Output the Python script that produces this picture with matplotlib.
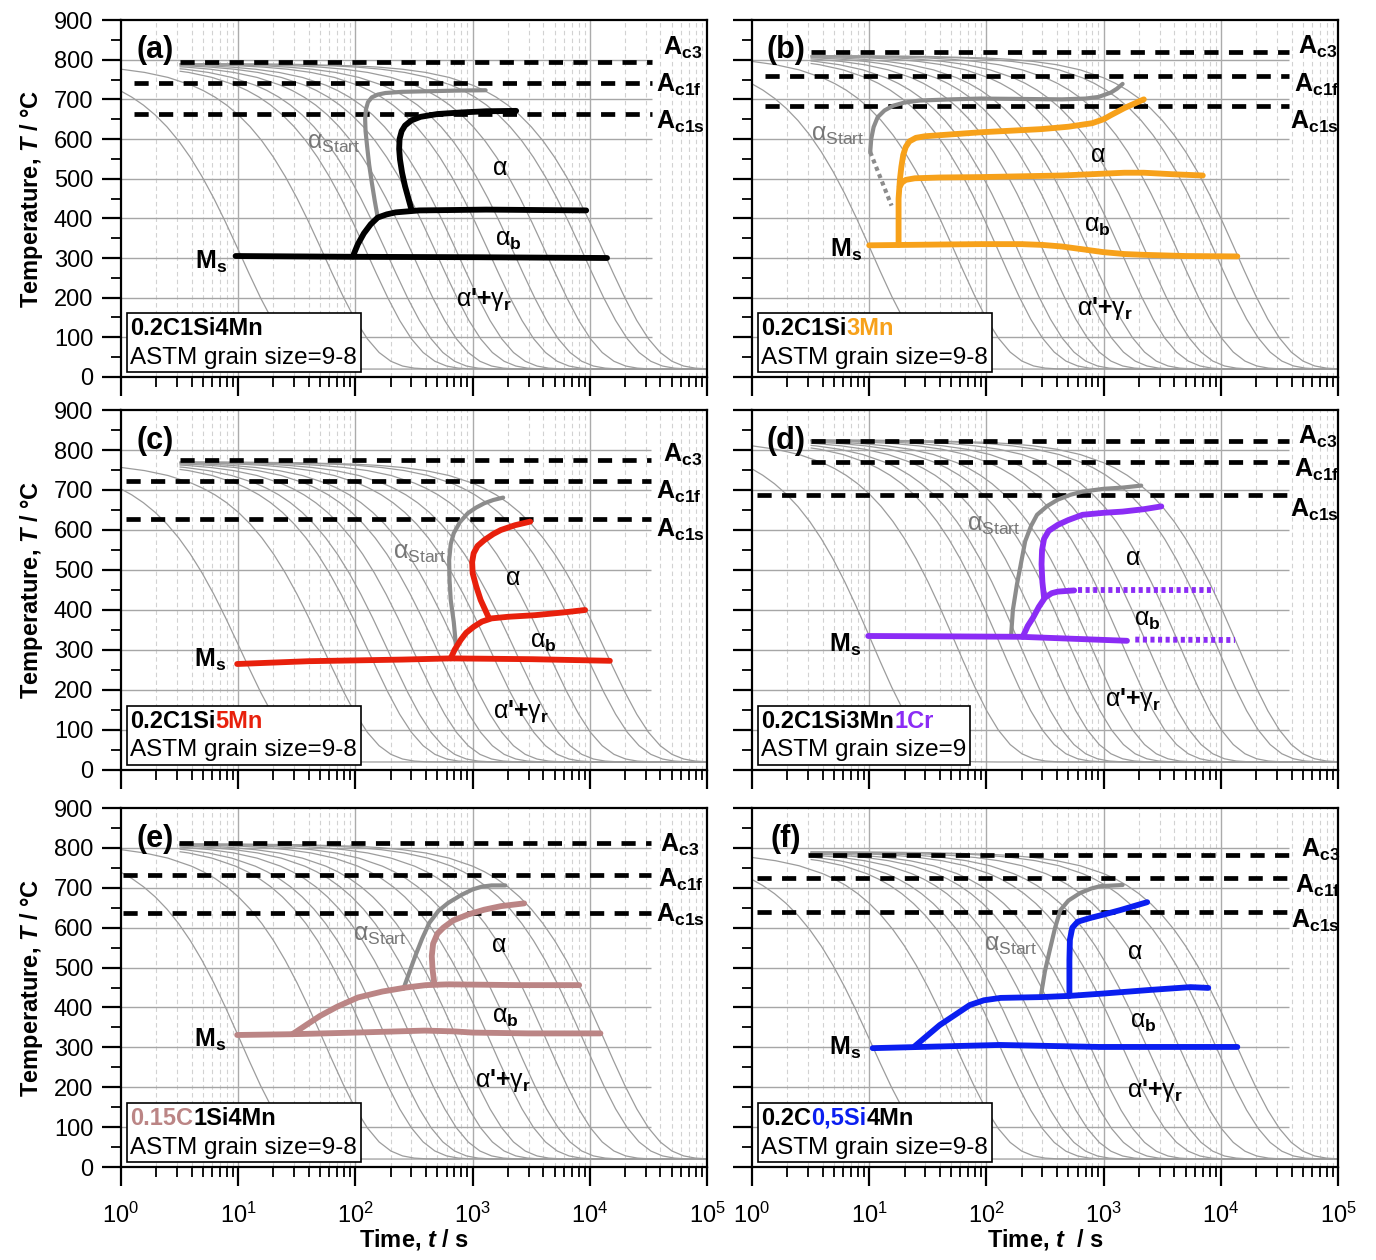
import numpy as np
import matplotlib
matplotlib.use("Agg")
import matplotlib.pyplot as plt
from matplotlib.offsetbox import TextArea, HPacker, VPacker, AnchoredOffsetbox

plt.rcParams['font.family'] = 'Liberation Sans'
plt.rcParams['mathtext.fontset'] = 'custom'
plt.rcParams['mathtext.rm'] = 'Liberation Sans'
plt.rcParams['mathtext.it'] = 'Liberation Sans:italic'
plt.rcParams['mathtext.bf'] = 'Liberation Sans:bold'
plt.rcParams['mathtext.bfit'] = 'Liberation Sans:italic:bold'

# --- cooling curves (same family in every panel) ---
# time [s] at which each curve is half way down
cool_mid_t = [7.8, 40, 95, 140, 230, 370, 560, 1050, 1700, 3200, 6600, 10000]
# shape of one curve: log-time offset from the mid point and fraction of (T0 - 20)
cool_dlog = [-4.0, -3.0, -2.5, -2.0, -1.8, -1.6, -1.4, -1.2, -1.0, -0.9, -0.8, -0.7,
             -0.6, -0.5, -0.4, -0.3, -0.2, -0.1, 0.0, 0.1, 0.2, 0.3, 0.4, 0.5, 0.6,
             0.7, 0.8, 0.9, 1.0, 1.2, 2.0]
cool_frac = [1.0, 0.9993, 0.9977, 0.9927, 0.9885, 0.9818, 0.9713, 0.9549, 0.9294,
             0.9119, 0.8905, 0.8641, 0.8320, 0.7933, 0.7472, 0.6929, 0.6301, 0.5591,
             0.4810, 0.3979, 0.3134, 0.2321, 0.1590, 0.0988, 0.0542, 0.0255, 0.0099,
             0.0030, 0.0007, 0.0, 0.0]

# --- critical temperatures Ac3, Ac1f, Ac1s [degC] ---
ac_a = [793, 741, 663]
ac_b = [820, 759, 683]
ac_c = [775, 722, 627]
ac_d = [822, 769, 688]
ac_e = [812, 733, 637]
ac_f = [782, 724, 639]

# --- (a) 0.2C1Si4Mn ---
ms_a_t = [9.5, 100, 1000, 14000]
ms_a_T = [305, 303, 302, 300]
bain_a_t = [95, 105, 118, 135, 155, 185, 220, 350, 1300, 9300]
bain_a_T = [304, 335, 362, 385, 402, 410, 415, 420, 422, 420]
ferr_a_t = [300, 282, 265, 250, 240, 236, 238, 248, 265, 300, 360, 500, 800, 1300, 2350]
ferr_a_T = [423, 452, 481, 515, 548, 575, 600, 620, 634, 647, 656, 663, 667, 670, 671]
start_a_t = [155, 146, 138, 131, 126, 122, 121, 123, 128, 138, 155, 180, 250, 355, 710, 1290]
start_a_T = [402, 445, 490, 535, 580, 620, 650, 675, 693, 705, 712, 716, 719, 720, 722, 723]

# --- (b) 0.2C1Si3Mn ---
ms_b_t = [10, 40, 89, 200, 300, 440, 700, 980, 1500, 2200, 5000, 13800]
ms_b_T = [332, 334, 335, 335, 333, 329, 321, 315, 310, 308, 305, 304]
ferr_b_t = [17.8, 17.8, 18.3, 18.8, 19.5, 20.5, 22, 25, 30, 89, 295, 500, 800, 1000, 1150, 1500, 2200]
ferr_b_T = [333, 450, 500, 530, 560, 580, 594, 603, 607, 617, 625, 631, 640, 650, 660, 678, 700]
bain_b_t = [18.2, 19, 20.5, 24.5, 40, 89, 440, 1500, 2200, 4000, 7000]
bain_b_T = [480, 490, 497, 501, 503, 504, 508, 515, 515, 511, 508]
start_b_t = [10.2, 10.4, 10.9, 11.8, 13.5, 16, 20, 27, 50, 89, 440, 700, 900, 1150, 1300, 1450]
start_b_T = [567, 600, 630, 655, 672, 684, 692, 697, 700, 702, 700, 702, 706, 717, 727, 739]
startdot_b_t = [10.2, 15.5]
startdot_b_T = [567, 432]

# --- (c) 0.2C1Si5Mn ---
ms_c_t = [9.8, 40, 250, 650, 3200, 14800]
ms_c_T = [265, 272, 276, 279, 277, 273]
bain_c_t = [650, 700, 790, 880, 1020, 1200, 1450, 2000, 3400, 6000, 9100]
bain_c_T = [279, 300, 325, 343, 358, 371, 379, 383, 387, 394, 400]
ferr_c_t = [1380, 1280, 1170, 1070, 1000, 990, 1020, 1100, 1260, 1500, 1740, 2300, 3100]
ferr_c_T = [379, 400, 425, 460, 492, 520, 542, 560, 575, 590, 600, 612, 621]
start_c_t = [720, 690, 650, 635, 630, 650, 690, 780, 910, 1070, 1260, 1500, 1820]
start_c_T = [312, 370, 425, 475, 525, 565, 592, 620, 642, 656, 667, 675, 681]

# --- (d) 0.2C1Si3Mn1Cr ---
ms_d_t = [9.8, 50, 195, 1580]
ms_d_T = [335, 334, 333, 323]
msdot_d_t = [1860, 13200]
msdot_d_T = [326, 325]
bain_d_t = [204, 225, 250, 280, 316, 360, 407, 560]
bain_d_T = [333, 360, 381, 408, 431, 442, 446, 449]
baindot_d_t = [600, 8900]
baindot_d_T = [449, 449]
ferr_d_t = [310, 300, 295, 298, 310, 340, 407, 500, 660, 1000, 1450, 2200, 3100]
ferr_d_T = [431, 470, 514, 550, 578, 598, 613, 625, 638, 643, 646, 652, 659]
start_d_t = [162, 168, 182, 198, 214, 240, 270, 330, 407, 520, 660, 1000, 1450, 2090]
start_d_T = [333, 400, 464, 520, 572, 610, 638, 660, 676, 688, 696, 703, 706, 711]

# --- (e) 0.15C1Si4Mn ---
ms_e_t = [9.8, 29, 100, 390, 700, 1000, 3000, 12300]
ms_e_T = [331, 333, 337, 342, 340, 337, 335, 335]
bain_e_t = [29, 38, 50, 70, 105, 170, 270, 400, 620, 2500, 8100]
bain_e_T = [333, 356, 379, 402, 425, 440, 450, 456, 458, 456, 456]
ferr_e_t = [470, 455, 448, 460, 500, 562, 680, 912, 1250, 1740, 2750]
ferr_e_T = [462, 495, 529, 560, 585, 600, 618, 633, 645, 654, 661]
start_e_t = [257, 290, 324, 370, 427, 510, 617, 800, 1000, 1200, 1450, 1900]
start_e_T = [447, 490, 529, 572, 612, 642, 662, 682, 696, 703, 706, 706]

# --- (f) 0.2C0,5Si4Mn ---
ms_f_t = [10.7, 130, 930, 13800]
ms_f_T = [298, 306, 301, 301]
bain_f_t = [24.5, 30, 40, 55, 72, 95, 132, 290, 510, 1000, 2500, 5500, 7800]
bain_f_T = [303, 325, 356, 383, 406, 418, 424, 426, 429, 435, 444, 451, 449]
ferr_f_t = [510, 510, 515, 540, 600, 760, 1000, 1380, 2350]
ferr_f_T = [429, 519, 570, 600, 615, 624, 633, 644, 664]
start_f_t = [290, 315, 347, 385, 427, 500, 630, 780, 930, 1450]
start_f_T = [426, 490, 544, 600, 644, 668, 687, 698, 704, 707]

orange = '#f7a11a'
red = '#e8200c'
purple = '#8b2cf5'
rosy = '#bb8585'
blue = '#0a1ef0'
gray = '#8c8c8c'

fig = plt.figure(figsize=(13.76, 12.6), dpi=100)
left_x = [0.0879, 0.5465]
rows_y = [(0.7008, 0.2833), (0.3889, 0.2857), (0.0738, 0.2849)]
axes = [[fig.add_axes([lx, by, 0.426, h]) for lx in left_x] for by, h in rows_y]

panels = [
    dict(ax=axes[0][0], tag='(a)', T0=790, ac=ac_a, ac_start=[3.2, 1.3, 1.3], ac_end=34000,
         ac_lab=[(41700, 829), (36300, 736), (36300, 643)], color='k',
         lines=[(ms_a_t, ms_a_T), (bain_a_t, bain_a_T), (ferr_a_t, ferr_a_T)], dots=[],
         start=(start_a_t, start_a_T), startdot=None,
         lab_start=(65, 590), lab_a=(1700, 527), lab_b=(2000, 345), lab_m=(1260, 195), lab_ms=(5.9, 290),
         comp=[('0.2C1Si4Mn', 'k')], grain='ASTM grain size=9-8'),
    dict(ax=axes[0][1], tag='(b)', T0=810, ac=ac_b, ac_start=[3.2, 1.3, 1.3], ac_end=38000,
         ac_lab=[(45700, 832), (41700, 736), (38900, 643)], color=orange,
         lines=[(ms_b_t, ms_b_T), (bain_b_t, bain_b_T), (ferr_b_t, ferr_b_T)], dots=[],
         start=(start_b_t, start_b_T), startdot=(startdot_b_t, startdot_b_T),
         lab_start=(5.4, 610), lab_a=(890, 560), lab_b=(890, 380), lab_m=(1030, 172), lab_ms=(6.3, 320),
         comp=[('0.2C1Si', 'k'), ('3Mn', orange)], grain='ASTM grain size=9-8'),
    dict(ax=axes[1][0], tag='(c)', T0=770, ac=ac_c, ac_start=[3.2, 1.1, 1.1], ac_end=33000,
         ac_lab=[(41700, 788), (36300, 695), (36300, 600)], color=red,
         lines=[(ms_c_t, ms_c_T), (bain_c_t, bain_c_T), (ferr_c_t, ferr_c_T)], dots=[],
         start=(start_c_t, start_c_T), startdot=None,
         lab_start=(355, 542), lab_a=(2200, 480), lab_b=(4000, 320), lab_m=(2600, 145), lab_ms=(5.8, 275),
         comp=[('0.2C1Si', 'k'), ('5Mn', red)], grain='ASTM grain size=9-8'),
    dict(ax=axes[1][1], tag='(d)', T0=825, ac=ac_d, ac_start=[3.2, 3.2, 1.1], ac_end=38000,
         ac_lab=[(45700, 833), (41700, 750), (38900, 650)], color=purple,
         lines=[(ms_d_t, ms_d_T), (bain_d_t, bain_d_T), (ferr_d_t, ferr_d_T)],
         dots=[(msdot_d_t, msdot_d_T), (baindot_d_t, baindot_d_T)],
         start=(start_d_t, start_d_T), startdot=None,
         lab_start=(115, 612), lab_a=(1780, 530), lab_b=(2340, 375), lab_m=(1780, 175), lab_ms=(6.2, 312),
         comp=[('0.2C1Si3Mn', 'k'), ('1Cr', purple)], grain='ASTM grain size=9'),
    dict(ax=axes[2][0], tag='(e)', T0=810, ac=ac_e, ac_start=[3.1, 1.05, 1.05], ac_end=33000,
         ac_lab=[(39800, 807), (38000, 719), (36300, 632)], color=rosy,
         lines=[(ms_e_t, ms_e_T), (bain_e_t, bain_e_T), (ferr_e_t, ferr_e_T)], dots=[],
         start=(start_e_t, start_e_T), startdot=None,
         lab_start=(162, 582), lab_a=(1660, 556), lab_b=(1900, 376), lab_m=(1820, 218), lab_ms=(5.8, 318),
         comp=[('0.15C', rosy), ('1Si4Mn', 'k')], grain='ASTM grain size=9-8'),
    dict(ax=axes[2][1], tag='(f)', T0=790, ac=ac_f, ac_start=[3.0, 1.1, 1.1], ac_end=38000,
         ac_lab=[(47900, 794), (42700, 706), (39800, 618)], color=blue,
         lines=[(ms_f_t, ms_f_T), (bain_f_t, bain_f_T), (ferr_f_t, ferr_f_T)], dots=[],
         start=(start_f_t, start_f_T), startdot=None,
         lab_start=(160, 557), lab_a=(1860, 539), lab_b=(2190, 364), lab_m=(2750, 193), lab_ms=(6.2, 298),
         comp=[('0.2C', 'k'), ('0,5Si', blue), ('4Mn', 'k')], grain='ASTM grain size=9-8'),
]

ac_names = [r'$\mathbf{A_{c3}}$', r'$\mathbf{A_{c1f}}$', r'$\mathbf{A_{c1s}}$']
dlog = np.array(cool_dlog)
frac = np.array(cool_frac)

for i, p in enumerate(panels):
    ax = p['ax']
    row, col = divmod(i, 2)
    ax.set_xscale('log')
    ax.set_xlim(1, 1e5)
    ax.set_ylim(0, 900)

    # grid
    ax.hlines(np.arange(100, 900, 100), 1, p['ac_end'], color='#a6a6a6', lw=1.0, zorder=0.5)
    ax.vlines([10, 100, 1000, 10000], 0, 900, color='#ababab', lw=1.0, zorder=0.5)
    minor_x = [k * 10.0 ** d for d in range(5) for k in range(2, 10)]
    ax.vlines(minor_x, 0, 900, color='#d2d2d2', lw=0.8, linestyles=(0, (4, 3)), zorder=0.4)

    # cooling curves
    for mid in cool_mid_t:
        t = mid * 10 ** dlog
        T = 20 + (p['T0'] - 20) * frac
        t0 = 1.0 if mid < 50 else 3.2
        keep = t > t0
        T_s = np.interp(np.log10(t0), np.log10(t), T)
        ax.plot(np.r_[t0, t[keep]], np.r_[T_s, T[keep]], color='#9c9c9c', lw=0.9, zorder=1)

    # critical temperatures
    for Tc, ts, name, (lx, ly) in zip(p['ac'], p['ac_start'], ac_names, p['ac_lab']):
        ax.plot([ts, p['ac_end']], [Tc, Tc], color='k', lw=3.4, ls=(0, (3.0, 2.2)), zorder=2)
        ax.text(lx, ly, name, fontsize=18, ha='left', va='center', zorder=6)

    # transformation lines
    ax.plot(*p['start'], color=gray, lw=3.0, solid_capstyle='round', solid_joinstyle='round', zorder=3)
    if p['startdot'] is not None:
        ax.plot(*p['startdot'], color=gray, lw=3.0, ls=(0, (1.0, 0.9)), zorder=3)
    for tt, TT in p['lines']:
        ax.plot(tt, TT, color=p['color'], lw=4.2, solid_capstyle='round',
                solid_joinstyle='round', zorder=4)
    for tt, TT in p['dots']:
        ax.plot(tt, TT, color=p['color'], lw=4.2, ls=(0, (0.7, 0.6)), zorder=4)

    # phase labels
    ax.text(*p['lab_start'], r'$\mathrm{\alpha}_{\mathrm{Start}}$', color='#777777',
            fontsize=18, ha='center', va='center', zorder=6)
    ax.text(*p['lab_a'], r'$\mathrm{\alpha}$', fontsize=18, ha='center', va='center', zorder=6)
    ax.text(*p['lab_b'], r'$\mathrm{\alpha}_{\mathbf{b}}$', fontsize=18, ha='center', va='center', zorder=6)
    ax.text(*p['lab_m'], r"$\mathrm{\alpha}$'+$\mathrm{\gamma}_{\mathbf{r}}$", fontsize=18,
            fontweight='bold', ha='center', va='center', zorder=6)
    ax.text(*p['lab_ms'], r'$\mathbf{M_s}$', fontsize=18, ha='center', va='center', zorder=6)
    ax.text(0.058, 0.915, p['tag'], transform=ax.transAxes, fontsize=22, fontweight='bold',
            ha='center', va='center', zorder=6)

    # composition box
    top = HPacker(children=[TextArea(s, textprops=dict(color=c, fontweight='bold', fontsize=17))
                            for s, c in p['comp']], align='baseline', pad=0, sep=0)
    bot = TextArea(p['grain'], textprops=dict(fontsize=17.5))
    box = AnchoredOffsetbox(loc='lower left', child=VPacker(children=[top, bot], align='left', pad=0, sep=5),
                            pad=0.25, borderpad=0, frameon=True, bbox_to_anchor=(0.01, 0.014),
                            bbox_transform=ax.transAxes)
    box.patch.set_edgecolor('k')
    box.patch.set_linewidth(1.2)
    box.patch.set_boxstyle('square', pad=0)
    box.set_zorder(5)
    ax.add_artist(box)

    # axes style
    ax.set_yticks(np.arange(0, 901, 100))
    ax.set_yticks(np.arange(50, 900, 100), minor=True)
    ax.xaxis.set_minor_locator(matplotlib.ticker.LogLocator(base=10, subs=np.arange(2, 10), numticks=20))
    ax.xaxis.set_minor_formatter(matplotlib.ticker.NullFormatter())
    ax.tick_params(which='major', direction='out', length=14, width=1.6, labelsize=17, pad=6)
    ax.tick_params(which='minor', direction='out', length=7, width=1.3)
    ax.tick_params(axis='x', which='major', pad=12)
    ax.tick_params(top=False, right=False, which='both')
    for sp in ax.spines.values():
        sp.set_linewidth(1.6)
    if col == 1:
        ax.tick_params(labelleft=False)
    else:
        ax.set_ylabel(r'Temperature, $\mathbfit{T}$ / °C', fontsize=17, fontweight='bold', labelpad=6)
    if row < 2:
        ax.tick_params(labelbottom=False)
    else:
        xl = r'Time, $\mathbfit{t}$ / s' if col == 0 else r'Time, $\mathbfit{t}$  / s'
        ax.set_xlabel(xl, fontsize=17, fontweight='bold', labelpad=-1)

fig.savefig('out.png', dpi=100)
